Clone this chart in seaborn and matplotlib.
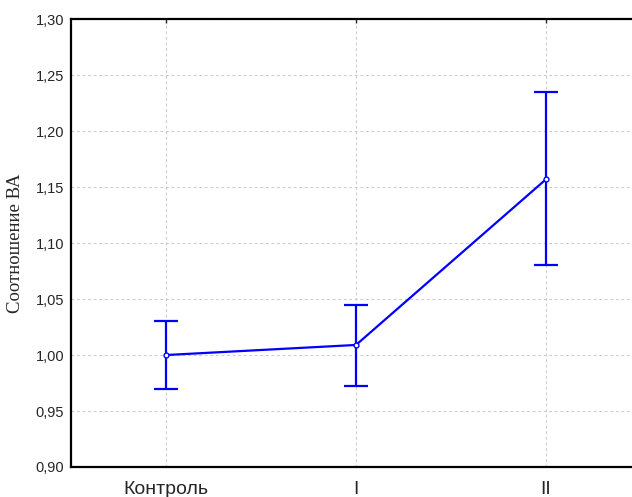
import numpy as np
import pandas as pd
import seaborn as sns
from matplotlib import pyplot as plt
from matplotlib.ticker import FuncFormatter

# Values
groups = ['Контроль', 'I', 'II']
means = [1.000, 1.009, 1.157]
lower = [0.970, 0.972, 1.080]
upper = [1.030, 1.045, 1.235]
y_ticks = [0.90, 0.95, 1.00, 1.05, 1.10, 1.15, 1.20, 1.25, 1.30]

df = pd.DataFrame({'pos': np.arange(len(groups)), 'mean': means})

sns.set_style('white')
plt.rcParams['font.family'] = ['Liberation Sans', 'DejaVu Sans']

fig = plt.figure(figsize=(6.32, 4.97), dpi=100)
ax = fig.add_axes([0.1123, 0.0604, 0.902, 0.901])

err = [np.array(means) - np.array(lower), np.array(upper) - np.array(means)]
ax.errorbar(df['pos'], df['mean'], yerr=err, fmt='none', ecolor='#0000ff',
            elinewidth=1.6, capsize=8.5, capthick=1.6, zorder=3)
sns.lineplot(data=df, x='pos', y='mean', ax=ax, color='#0000ff', linewidth=1.6,
             marker='o', markersize=3.5, markerfacecolor='white',
             markeredgecolor='#0000ff', markeredgewidth=1.0, zorder=4)

ax.set_xlim(-0.5, 2.5)
ax.set_ylim(0.90, 1.30)
ax.set_xticks(df['pos'])
ax.set_xticklabels(groups, fontsize=14)
ax.set_yticks(y_ticks)
ax.yaxis.set_major_formatter(FuncFormatter(lambda v, p: f'{v:.2f}'.replace('.', ',')))
ax.tick_params(axis='y', labelsize=10.5, direction='in', length=3, width=1, pad=5)
ax.tick_params(axis='x', direction='in', length=3, width=1, pad=10, top=True)
ax.tick_params(axis='y', right=False)

ax.grid(True, color='#cccccc', linestyle=(0, (2.5, 2.5)), linewidth=0.8)
ax.set_axisbelow(True)
for side in ['left', 'bottom', 'top', 'right']:
    ax.spines[side].set_color('black')
    ax.spines[side].set_linewidth(1.6)

ax.set_xlabel('')
ax.set_ylabel('Соотношение ВА', fontsize=13.5, family=['Liberation Serif', 'DejaVu Serif'], labelpad=8)

fig.savefig('out.png', dpi=100)
